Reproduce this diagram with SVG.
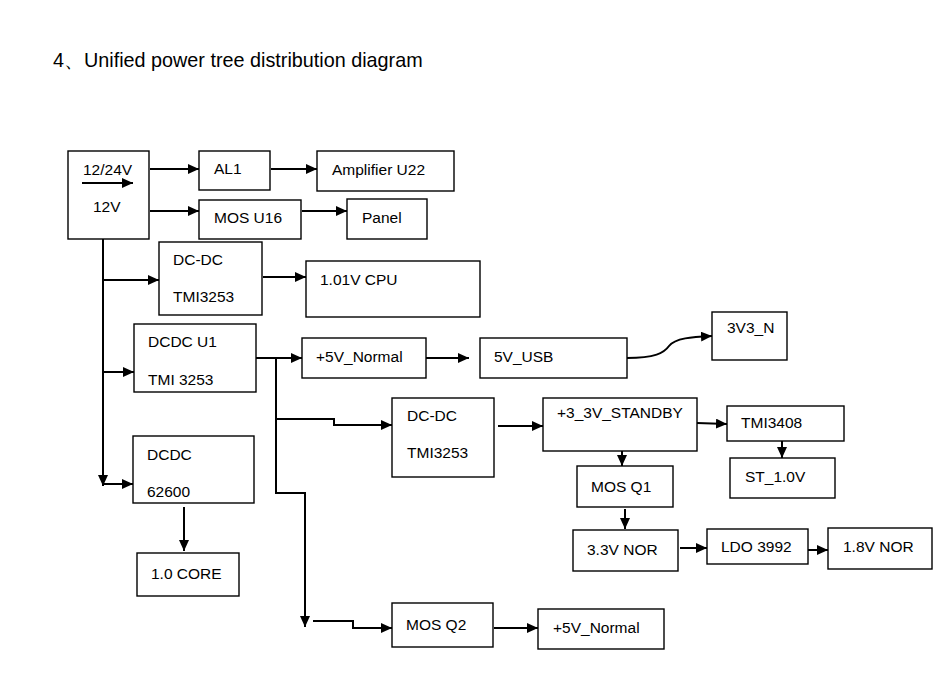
<svg xmlns="http://www.w3.org/2000/svg" width="946" height="693" viewBox="0 0 946 693">
<defs>
<marker id="ah" markerUnits="userSpaceOnUse" markerWidth="12" markerHeight="10" refX="11" refY="5" orient="auto">
<path d="M0,0 L11,5 L0,10 z" fill="#000"/>
</marker>
<style>
.b{fill:#fff;stroke:#000;stroke-width:1.4}
.t{font-family:"Liberation Sans",Arial,sans-serif;font-size:15.5px;fill:#000}
.c{fill:none;stroke:#000;stroke-width:2}
.a{marker-end:url(#ah)}
</style>
</defs>
<rect width="946" height="693" fill="#fff"/>
<text x="53" y="67" style="font-family:'Liberation Sans',Arial,sans-serif;font-size:19.8px">4、Unified power tree distribution diagram</text>

<g id="connectors">
<path class="c a" d="M150,169 H199"/>
<path class="c a" d="M271,169 H317"/>
<path class="c a" d="M150,211 H199"/>
<path class="c a" d="M302,211 H347"/>
<path class="c a" d="M103,239 V486"/>
<path class="c a" d="M103,280 H159"/>
<path class="c a" d="M103,372 H134"/>
<path class="c a" d="M103,484 H133"/>
<path class="c a" d="M263,277 H306"/>
<path class="c a" d="M256,358 H302"/>
<path class="c a" d="M426,358 H469"/>
<path class="c a" d="M627,358 C655,358 664,353 669,346 C675,338 692,337 712,336"/>
<path class="c" d="M276,358 V493 H305"/>
<path class="c a" d="M305,492 V627"/>
<path class="c a" d="M276,419 H334 V425 H392"/>
<path class="c a" d="M313,621 H353 V628 H392"/>
<path class="c a" d="M494,628 H538"/>
<path class="c a" d="M498,426 H543"/>
<path class="c a" d="M697,423 L727,424"/>
<path class="c a" d="M782,441 V458"/>
<path class="c a" d="M622,451 V466"/>
<path class="c a" d="M625,509 V529"/>
<path class="c a" d="M680,548 H707"/>
<path class="c a" d="M808,550 H828"/>
<path class="c a" d="M184,507 V551"/>
</g>

<g id="src">
<rect class="b" x="68" y="151" width="81" height="88"/>
<text class="t" x="83" y="175">12/24V</text>
<path class="c a" d="M82,183 H133"/>
<text class="t" x="93" y="212">12V</text>
</g>
<g id="al1"><rect class="b" x="199" y="151" width="71" height="39"/><text class="t" x="214" y="174">AL1</text></g>
<g id="amp"><rect class="b" x="317" y="151" width="137" height="40"/><text class="t" x="332" y="175">Amplifier U22</text></g>
<g id="mosu16"><rect class="b" x="199" y="200" width="102" height="39"/><text class="t" x="214" y="223">MOS U16</text></g>
<g id="panel"><rect class="b" x="347" y="199" width="80" height="40"/><text class="t" x="362" y="223">Panel</text></g>
<g id="dcdc1"><rect class="b" x="159" y="242" width="103" height="73"/><text class="t" x="173" y="265">DC-DC</text><text class="t" x="173" y="302">TMI3253</text></g>
<g id="cpu"><rect class="b" x="306" y="261" width="174" height="56"/><text class="t" x="320" y="285">1.01V CPU</text></g>
<g id="dcdcu1"><rect class="b" x="134" y="324" width="122" height="68"/><text class="t" x="148" y="347">DCDC U1</text><text class="t" x="148" y="385">TMI 3253</text></g>
<g id="p5n1"><rect class="b" x="302" y="338" width="124" height="40"/><text class="t" x="316" y="362">+5V_Normal</text></g>
<g id="usb"><rect class="b" x="480" y="338" width="147" height="40"/><text class="t" x="494" y="362">5V_USB</text></g>
<g id="v3n"><rect class="b" x="712" y="312" width="75" height="48"/><text class="t" x="727" y="333">3V3_N</text></g>
<g id="dcdc2"><rect class="b" x="392" y="398" width="102" height="79"/><text class="t" x="407" y="421">DC-DC</text><text class="t" x="407" y="458">TMI3253</text></g>
<g id="stby"><rect class="b" x="543" y="398" width="154" height="53"/><text class="t" x="557" y="418">+3_3V_STANDBY</text></g>
<g id="tmi3408"><rect class="b" x="727" y="406" width="117" height="35"/><text class="t" x="741" y="428">TMI3408</text></g>
<g id="st10"><rect class="b" x="730" y="458" width="105" height="40"/><text class="t" x="745" y="482">ST_1.0V</text></g>
<g id="mosq1"><rect class="b" x="577" y="466" width="96" height="41"/><text class="t" x="591" y="492">MOS Q1</text></g>
<g id="nor33"><rect class="b" x="573" y="530" width="105" height="41"/><text class="t" x="587" y="555">3.3V NOR</text></g>
<g id="ldo"><rect class="b" x="707" y="529" width="101" height="35"/><text class="t" x="721" y="552">LDO 3992</text></g>
<g id="nor18"><rect class="b" x="828" y="528" width="104" height="41"/><text class="t" x="843" y="552">1.8V NOR</text></g>
<g id="dcdc62600"><rect class="b" x="133" y="436" width="121" height="67"/><text class="t" x="147" y="460">DCDC</text><text class="t" x="147" y="497">62600</text></g>
<g id="core"><rect class="b" x="137" y="553" width="102" height="43"/><text class="t" x="151" y="579">1.0 CORE</text></g>
<g id="mosq2"><rect class="b" x="392" y="603" width="101" height="44"/><text class="t" x="406" y="630">MOS Q2</text></g>
<g id="p5n2"><rect class="b" x="538" y="609" width="126" height="40"/><text class="t" x="553" y="633">+5V_Normal</text></g>
</svg>
